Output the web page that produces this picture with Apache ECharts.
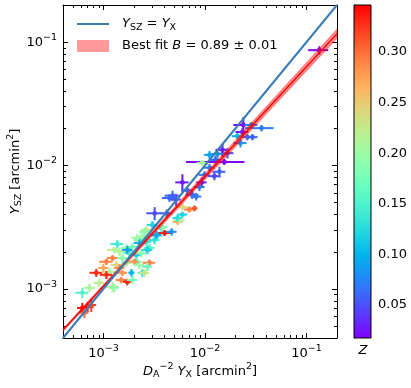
<!DOCTYPE html>
<html><head><meta charset="utf-8">
<script src="https://cdn.jsdelivr.net/npm/echarts@6/dist/echarts.min.js"></script>
<style>html,body{margin:0;padding:0;background:#fff}#c{width:411px;height:388px}</style>
</head><body><div id="c"></div>
<script>
// ---- data ----
const xVals = [0.134,0.0239,0.0287,0.0361,0.0234,0.0262,0.0294,0.0224,0.0209,0.0149,
  0.0167,0.0133,0.0111,0.0127,0.0155,0.0094,0.0111,0.0139,0.0099,0.0124,
  0.0093,0.0060,0.0067,0.0075,0.0048,0.0052,0.0082,0.0032,0.0042,0.0070,
  0.0079,0.0060,0.0054,0.0056,0.0040,0.0047,0.00372,0.00304,0.00265,0.00242,
  0.00226,0.00137,0.00128,0.00169,0.00193,0.00189,0.00211,0.00123,0.00284,0.00226,
  0.00265,0.00144,0.0018,0.00237,0.00271,0.00107,0.00134,0.00169,0.00211,0.00284,
  0.00085,0.00115,0.00154,0.00189,0.00242,0.0015,0.00172,0.00123,0.00091,0.00073,
  0.00062,0.00070,0.00062,0.00076,0.00065,0.00318,0.0034,0.00154,0.0010,
  0.00216,0.00254,0.00333,0.00202,0.00107,0.00226,0.00271,0.00254,0.00193,0.00128,
  0.00883,0.00447,0.0060,0.00536,0.00381,0.00172,0.00144];
const yVals = [0.0861,0.0213,0.0213,0.0201,0.0187,0.0170,0.0170,0.0152,0.0173,0.0134,
  0.0126,0.0124,0.0122,0.0111,0.0107,0.0105,0.0096,0.0089,0.0084,0.0082,
  0.0073,0.0073,0.0063,0.0058,0.0057,0.0053,0.0056,0.0041,0.0041,0.0044,
  0.0045,0.0040,0.0035,0.0036,0.00284,0.0029,0.00312,0.0033,0.00301,0.00264,
  0.00249,0.00231,0.00207,0.00215,0.00219,0.0020,0.00188,0.00178,0.00215,0.00236,
  0.0024,0.0020,0.00195,0.00195,0.00207,0.00166,0.00156,0.00163,0.00166,0.00163,
  0.00135,0.00137,0.00135,0.00135,0.00135,0.00118,0.00114,0.00104,0.00112,0.00102,
  0.00093,0.000715,0.0007,0.00074,0.00064,0.00249,0.00269,0.00178,0.00148,
  0.00259,0.0029,0.00274,0.00166,0.0013,0.00156,0.00151,0.00135,0.00118,0.00102,
  0.0067,0.00546,0.00461,0.00376,0.00318,0.00207,0.00148];
const xErr = [0.030,0.0048,0.0042,0.0113,0.0034,0.0031,0.0035,0.0033,0.0025,0.0022,
  0.0024,0.0016,0.0013,0.0015,0.0090,0.0011,0.0013,0.0020,0.0012,0.0018,
  0.0011,0.0009,0.0008,0.0011,0.0008,0.0006,0.0010,0.00055,0.0006,0.0008,
  0.00055,0.0007,0.0006,0.0007,0.0007,0.00056,0.00036,0.00036,0.00032,0.00029,
  0.00027,0.0002,0.00019,0.0002,0.00023,0.00023,0.00025,0.00015,0.00034,0.00027,
  0.00032,0.00017,0.00022,0.00028,0.00032,0.00016,0.00016,0.0002,0.00025,0.00041,
  0.00012,0.00017,0.00018,0.00013,0.00023,0.00018,0.00016,0.00018,0.00011,0.00009,
  0.00009,0.0001,0.00007,0.00009,0.00006,0.00038,0.00041,0.00018,0.00012,
  0.00026,0.0003,0.0004,0.00024,0.00015,0.00027,0.00032,0.0003,0.00023,0.00015,
  0.0011,0.0007,0.0007,0.0006,0.00045,0.0002,0.00017];
const yErr = [0.0066,0.0034,0.0012,0.0012,0.0014,0.0010,0.0010,0.0012,0.0010,0.0016,
  0.0012,0.0010,0.0009,0.0009,0.0006,0.0006,0.0007,0.0009,0.0006,0.0006,
  0.0007,0.0012,0.0005,0.00044,0.00055,0.0006,0.0004,0.0005,0.0003,0.00025,
  0.00025,0.00023,0.0002,0.0002,0.00016,0.0002,0.00024,0.00025,0.00023,0.0002,
  0.00019,0.00018,0.00012,0.00017,0.00017,0.00015,0.00018,0.0001,0.00017,0.00018,
  0.00018,0.00015,0.00015,0.00015,0.00016,0.0001,0.00012,0.00013,0.00013,0.0001,
  0.0001,0.00011,0.00008,0.0001,0.0001,0.00007,0.00007,0.0001,0.00009,0.00008,
  0.00009,0.00007,0.00007,0.00009,0.00006,0.00019,0.00021,0.00014,0.00011,
  0.0002,0.00022,0.00021,0.0001,0.0001,0.00012,0.00012,0.0001,0.00009,0.00008,
  0.0005,0.0004,0.0003,0.00025,0.00024,0.00016,0.00011];
const zVals = [0.02,0.02,0.07,0.07,0.03,0.06,0.06,0.08,0.10,0.03,
  0.05,0.08,0.09,0.06,0.02,0.21,0.07,0.06,0.07,0.05,
  0.03,0.03,0.06,0.06,0.06,0.05,0.07,0.05,0.06,0.29,
  0.31,0.12,0.27,0.22,0.34,0.08,0.14,0.12,0.23,0.20,
  0.17,0.14,0.22,0.19,0.17,0.18,0.12,0.29,0.15,0.09,
  0.14,0.21,0.15,0.19,0.12,0.29,0.24,0.20,0.16,0.29,
  0.33,0.21,0.28,0.10,0.13,0.29,0.33,0.22,0.22,0.21,
  0.15,0.33,0.34,0.32,0.30,0.13,0.16,0.19,0.27,
  0.20,0.19,0.09,0.28,0.33,0.20,0.17,0.23,0.18,0.19,
  0.07,0.06,0.24,0.13,0.19,0.09,0.28];

const fitA = 0.49, fitB = 0.89, fitBErr = 0.01, bandPivot = 1e-4;
const axisMin = 4e-4, axisMax = 0.2;
const cMin = 0.0173, cMax = 0.3465;
const majorTicks = [1e-3, 1e-2, 1e-1];
const minorTicks = [4e-4,5e-4,6e-4,7e-4,8e-4,9e-4,2e-3,3e-3,4e-3,5e-3,6e-3,7e-3,8e-3,9e-3,
  2e-2,3e-2,4e-2,5e-2,6e-2,7e-2,8e-2,9e-2];
const cbarTicks = [0.05,0.10,0.15,0.20,0.25,0.30];

// ---- style ----
const F = 'DejaVu Sans';
const BLUE = '#3a7db5';
function rainbow(t){
  t = Math.max(0, Math.min(1, t));
  const r = Math.min(1, Math.abs(2*t - 0.5)), g = Math.sin(Math.PI*t), b = Math.cos(Math.PI*t/2);
  return 'rgb(' + Math.round(r*255) + ',' + Math.round(g*255) + ',' + Math.round(b*255) + ')';
}
const richMath = {
  i: {fontStyle:'italic', fontSize:13, fontFamily:F, color:'#000'},
  n: {fontSize:13, fontFamily:F, color:'#000'},
  sb: {fontSize:9.5, fontFamily:F, color:'#000', padding:[7,0,0,0]},
  sp: {fontSize:9.5, fontFamily:F, color:'#000', padding:[0,0,9,0]}
};
const tickLabelRich = {
  b: {fontSize:13, fontFamily:F, color:'#000'},
  s: {fontSize:9.5, fontFamily:F, color:'#000', padding:[0,0,9,0]}
};
function tickFmt(v){ return '{b|10}{s|\u2212' + Math.round(-Math.log10(v)) + '}'; }

function logAxis(dim, pos, ticks, len, showLabel, showLine){
  return {
    type:'log', logBase:10, min:axisMin, max:axisMax, position:pos,
    axisLine:{show:showLine, lineStyle:{color:'#000', width:1}},
    axisTick:{show:true, inside:true, length:len, customValues:ticks, lineStyle:{color:'#000', width:1}},
    axisLabel:{show:showLabel, customValues:ticks, formatter:tickFmt, rich:tickLabelRich, margin:6},
    splitLine:{show:false}, minorTick:{show:false}, minorSplitLine:{show:false}
  };
}

const xMain = logAxis('x','bottom', majorTicks, 5, true, true);
xMain.name = '{i|D}{sb|A}{sp|\u22122} {i|Y}{sb|X} [arcmin{sp|2}]';
xMain.nameLocation = 'middle';
xMain.nameGap = 24;
xMain.nameMoveOverlap = false;
xMain.nameTextStyle = {rich: richMath, fontSize:13, fontFamily:F, color:'#000'};
const yMain = logAxis('y','left', majorTicks, 5, true, true);
yMain.name = '{i|Y}{sb|SZ} [arcmin{sp|2}]';
yMain.nameLocation = 'middle';
yMain.nameGap = 38;
yMain.nameMoveOverlap = false;
yMain.nameTextStyle = {rich: richMath, fontSize:13, fontFamily:F, color:'#000'};

const pts = xVals.map((x, i) => [x, yVals[i], xErr[i], yErr[i], zVals[i]]);
const fit = x => fitA * Math.pow(x, fitB);

const stops = [];
for (let k = 0; k <= 20; k++) stops.push({offset:k/20, color: rainbow(k/20)});

const chart = echarts.init(document.getElementById('c'), null, {renderer:'canvas'});
chart.setOption({
  animation:false,
  backgroundColor:'#fff',
  textStyle:{fontFamily:F},
  grid:[
    {left:63, right:74, top:5, bottom:50, outerBoundsMode:'none', containLabel:false},
    {left:354, width:17, top:5, bottom:50, outerBoundsMode:'none', containLabel:false}
  ],
  xAxis:[
    xMain,
    logAxis('x','top', majorTicks, 5, false, true),
    logAxis('x','top', minorTicks, 3, false, false),
    logAxis('x','bottom', minorTicks, 3, false, false),
    {gridIndex:1, type:'value', min:0, max:1, show:false}
  ],
  yAxis:[
    yMain,
    logAxis('y','right', majorTicks, 5, false, true),
    logAxis('y','right', minorTicks, 3, false, false),
    logAxis('y','left', minorTicks, 3, false, false),
    {gridIndex:1, type:'value', min:cMin, max:cMax, position:'right',
     axisLine:{show:true, lineStyle:{color:'#000', width:1}},
     axisTick:{show:true, inside:false, length:5, customValues:cbarTicks, lineStyle:{color:'#000'}},
     axisLabel:{show:true, customValues:cbarTicks, formatter:v=>v.toFixed(2), margin:7, fontSize:13, fontFamily:F, color:'#000'},
     splitLine:{show:false}}
  ],
  series:[
    {type:'custom', xAxisIndex:0, yAxisIndex:0, clip:true, z:2, data:pts,
     renderItem:function(params, api){
       const x=api.value(0), y=api.value(1), xe=api.value(2), ye=api.value(3), z=api.value(4);
       const c = rainbow((z-cMin)/(cMax-cMin));
       const p=api.coord([x,y]), l=api.coord([x-xe,y]), r=api.coord([x+xe,y]), t=api.coord([x,y+ye]), b=api.coord([x,y-ye]);
       return {type:'group', children:[
         {type:'line', shape:{x1:l[0],y1:l[1],x2:r[0],y2:r[1]}, style:{stroke:c, lineWidth:2}},
         {type:'line', shape:{x1:t[0],y1:t[1],x2:b[0],y2:b[1]}, style:{stroke:c, lineWidth:2}},
         {type:'circle', shape:{cx:p[0],cy:p[1],r:2.4}, style:{fill:c}}
       ]};
     }},
    {type:'custom', xAxisIndex:0, yAxisIndex:0, clip:true, z:3, data:[[axisMin, axisMax]],
     renderItem:function(params, api){
       const x0=api.value(0), x1=api.value(1);
       const up = x => fit(x)*Math.pow(x/bandPivot, fitBErr);
       const lo = x => fit(x)*Math.pow(x/bandPivot, -fitBErr);
       const pts = [api.coord([x0, up(x0)]), api.coord([x1, up(x1)]), api.coord([x1, lo(x1)]), api.coord([x0, lo(x0)])];
       return {type:'polygon', shape:{points:pts}, style:{fill:'rgba(255,0,0,0.38)', stroke:'rgba(255,0,0,0.38)', lineWidth:1.5}};
     }},
    {type:'line', xAxisIndex:0, yAxisIndex:0, z:4, symbol:'none', silent:true,
     data:[[axisMin, fit(axisMin)], [axisMax, fit(axisMax)]], lineStyle:{color:'#ff0000', width:1.5}},
    {type:'line', xAxisIndex:0, yAxisIndex:0, z:5, symbol:'none', silent:true,
     data:[[axisMin, axisMin], [axisMax, axisMax]], lineStyle:{color:BLUE, width:2}},
    {type:'custom', xAxisIndex:4, yAxisIndex:4, z:2, data:[[0, cMin, 1, cMax]],
     renderItem:function(params, api){
       const a = api.coord([api.value(0), api.value(1)]), b = api.coord([api.value(2), api.value(3)]);
       return {type:'rect', shape:{x:a[0], y:b[1], width:b[0]-a[0], height:a[1]-b[1]},
         style:{fill:new echarts.graphic.LinearGradient(0,1,0,0,stops), stroke:'#000', lineWidth:1}};
     }}
  ],
  graphic:[
    {type:'line', shape:{x1:77,y1:24,x2:109,y2:24}, style:{stroke:BLUE, lineWidth:2}},
    {type:'rect', shape:{x:77,y:40,width:32,height:12}, style:{fill:'#ff9a9a'}},
    {type:'text', x:122, y:24, style:{text:'{i|Y}{sb|SZ}{n| = }{i|Y}{sb|X}', rich:richMath, fontSize:13, fontFamily:F, fill:'#000', verticalAlign:'middle'}},
    {type:'text', x:122, y:46, style:{text:'{n|Best fit }{i|B}{n| = 0.89 \u00b1 0.01}', rich:richMath, fontSize:13, fontFamily:F, fill:'#000', verticalAlign:'middle'}},
    {type:'text', x:363, y:351, style:{text:'Z', fontStyle:'italic', fontSize:13, fontFamily:F, fill:'#000', align:'center', verticalAlign:'middle'}}
  ]
});
</script></body></html>
